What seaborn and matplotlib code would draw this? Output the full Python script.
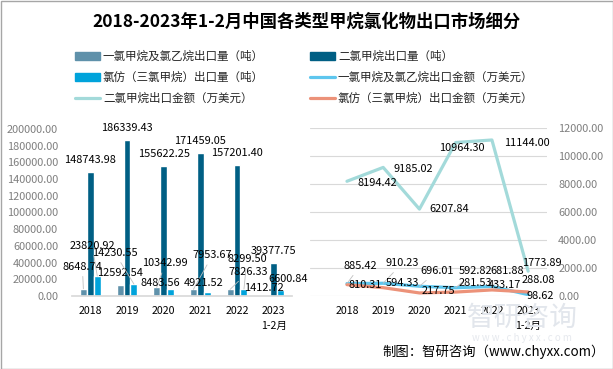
import pandas as pd
import matplotlib
matplotlib.use('Agg')
import matplotlib.pyplot as plt
import seaborn as sns
from matplotlib.patches import Rectangle

# ====================== DATA ======================
years = ['2018', '2019', '2020', '2021', '2022', '2023']
year_labels = ['2018', '2019', '2020', '2021', '2022', '2023\n1-2月']

mcm_vol = [8648.74, 12592.54, 10342.99, 7953.67, 7826.33, 1412.72]        # 一氯甲烷及氯乙烷出口量（吨）
dcm_vol = [148743.98, 186339.43, 155622.25, 171459.05, 157201.40, 39377.75]  # 二氯甲烷出口量（吨）
tcm_vol = [23820.92, 14230.55, 8483.56, 4921.52, 8299.50, 6600.84]        # 氯仿（三氯甲烷）出口量（吨）

mcm_amt = [885.42, 910.23, 696.01, 592.82, 681.88, 98.62]       # 一氯甲烷及氯乙烷出口金额（万美元）
dcm_amt = [8194.42, 9185.02, 6207.84, 10964.30, 11144.00, 1773.89]  # 二氯甲烷出口金额（万美元）
tcm_amt = [810.31, 594.33, 217.75, 281.53, 433.17, 288.08]      # 氯仿（三氯甲烷）出口金额（万美元）

bar_names = ['一氯甲烷及氯乙烷出口量（吨）', '二氯甲烷出口量（吨）', '氯仿（三氯甲烷）出口量（吨）']
line_names = ['一氯甲烷及氯乙烷出口金额（万美元）', '二氯甲烷出口金额（万美元）', '氯仿（三氯甲烷）出口金额（万美元）']

# ====================== STYLE ======================
bar_colors = ['#5f91aa', '#005f84', '#00a3db']
line_colors = ['#5ec6ee', '#a3dada', '#ec9279']

sns.set_theme(style='white')
plt.rcParams['font.family'] = ['Noto Sans CJK SC', 'DejaVu Sans']

# label offsets in pixels (dx, dy up) from the mark
off_mcm_vol = [(-1, 22), (0, 12.5), (8.6, 24), (19, 34), (18, 17.5), (-2.5, 7)]
off_tcm_vol = [(-5, 30), (-19, 31), (-10, 6), (-4, 9), (3, 30), (7.5, 11.5)]
off_mcm_amt = [(13, 17.6), (19, 20), (17.6, 15), (19.4, 16.7), (15, 15.5), (12, -1.4)]
off_dcm_amt = [(30, -2), (30, -1.5), (30, 0), (6, -5.5), (35, -3), (14, 8)]
off_tcm_amt = [(18, 0), (19, 4.7), (18.6, 2), (20, 9), (13, 5), (10, 12)]

W, H = 613, 369
fig = plt.figure(figsize=(W / 100, H / 100), dpi=100)
ax1 = fig.add_axes([72 / W, 1 - 296 / H, 220 / W, 167 / H])
ax2 = fig.add_axes([310 / W, 1 - 296 / H, 237 / W, 168 / H])

# ====================== BARS ======================
bars = pd.DataFrame({
    'year': years * 3,
    'value': mcm_vol + dcm_vol + tcm_vol,
    'series': [bar_names[0]] * 6 + [bar_names[1]] * 6 + [bar_names[2]] * 6,
})
sns.barplot(data=bars, x='year', y='value', hue='series', hue_order=bar_names,
            palette=bar_colors, width=0.57, gap=0, saturation=1, ax=ax1, legend=False)
ax1.set_ylim(0, 200000)
ax1.set_xlim(-0.5, 5.5)
ax1.set_xlabel('')
ax1.set_ylabel('')
ax1.set_yticks(range(0, 200001, 20000))
ax1.set_yticklabels([f'{v:.2f}' for v in range(0, 200001, 20000)], color='#7f7f7f', fontsize=7.9)
ax1.set_xticks(range(6))
ax1.set_xticklabels(year_labels, fontsize=7.6, color='black', linespacing=1.6)
ax1.tick_params(axis='both', length=0)
ax1.tick_params(axis='y', pad=10)
ax1.tick_params(axis='x', pad=7)
for s in ['top', 'right', 'left']:
    ax1.spines[s].set_visible(False)
ax1.spines['bottom'].set_color('#d9d9d9')
ax1.set_facecolor('none')

PX = 0.72  # px -> points
lab_kw = dict(fontsize=7.9, color='black', ha='center', va='center', textcoords='offset points',
              annotation_clip=False)
leader = dict(arrowstyle='-', color='#bfbfbf', lw=0.6, shrinkA=1, shrinkB=0)

bw = 0.19
for i in range(6):
    ax1.annotate(f'{dcm_vol[i]:.2f}', (i, dcm_vol[i]), xytext=(0, 12 * PX), **lab_kw)
    dx, dy = off_mcm_vol[i]
    ax1.annotate(f'{mcm_vol[i]:.2f}', (i - bw, mcm_vol[i]), xytext=(dx * PX, dy * PX),
                 arrowprops=leader if dy > 14 else None, **lab_kw)
    dx, dy = off_tcm_vol[i]
    ax1.annotate(f'{tcm_vol[i]:.2f}', (i + bw, tcm_vol[i]), xytext=(dx * PX, dy * PX),
                 arrowprops=leader if dy > 14 else None, **lab_kw)

# ====================== LINES ======================
lines = pd.DataFrame({
    'year': years * 3,
    'value': mcm_amt + dcm_amt + tcm_amt,
    'series': [line_names[0]] * 6 + [line_names[1]] * 6 + [line_names[2]] * 6,
})
lines['pos'] = lines['year'].map({y: k for k, y in enumerate(years)})
sns.lineplot(data=lines, x='pos', y='value', hue='series', hue_order=line_names,
             palette=line_colors, linewidth=2.3, sort=False, ax=ax2, legend=False)
ax2.set_ylim(0, 12000)
ax2.set_xlim(-1.02, 5.52)
ax2.set_xlabel('')
ax2.set_ylabel('')
ax2.yaxis.tick_right()
ax2.set_yticks(range(0, 12001, 2000))
ax2.set_yticklabels([f'{v:.2f}' for v in range(0, 12001, 2000)], color='#7f7f7f', fontsize=7.9)
ax2.set_xticks(range(6))
ax2.set_xticklabels(year_labels, fontsize=7.6, color='black', linespacing=1.6)
ax2.tick_params(axis='both', length=0)
ax2.tick_params(axis='y', pad=8)
ax2.tick_params(axis='x', pad=7)
ax2.grid(axis='y', color='#d9d9d9', lw=0.8)
ax2.set_axisbelow(True)
for s in ax2.spines.values():
    s.set_visible(False)
ax2.set_facecolor('none')

for i in range(6):
    dx, dy = off_dcm_amt[i]
    ax2.annotate(f'{dcm_amt[i]:.2f}', (i, dcm_amt[i]), xytext=(dx * PX, dy * PX), **lab_kw)
    dx, dy = off_mcm_amt[i]
    ax2.annotate(f'{mcm_amt[i]:.2f}', (i, mcm_amt[i]), xytext=(dx * PX, dy * PX),
                 arrowprops=leader if dy > 10 else None, **lab_kw)
    dx, dy = off_tcm_amt[i]
    ax2.annotate(f'{tcm_amt[i]:.2f}', (i, tcm_amt[i]), xytext=(dx * PX, dy * PX), **lab_kw)

# ====================== LEGEND / TITLE ======================
bh = [Rectangle((0, 0), 1, 1, color=c) for c in bar_colors]
lh = [plt.Line2D([0], [0], color=c, lw=2.3) for c in line_colors]
handles = [bh[0], bh[2], lh[1], bh[1], lh[0], lh[2]]
labels = [bar_names[0], bar_names[2], line_names[1], bar_names[1], line_names[0], line_names[2]]
fig.legend(handles, labels, ncol=2, loc='upper left', bbox_to_anchor=(75 / W, 1 - 50 / H),
           frameon=False, fontsize=8.3, handlelength=2.17, handleheight=0.6, handletextpad=0.25,
           labelspacing=0.7, columnspacing=4.0, borderpad=0, borderaxespad=0)

fig.text(307 / W, 1 - 22 / H, '2018-2023年1-2月中国各类型甲烷氯化物出口市场细分',
         ha='center', va='center', fontsize=12.5, fontweight='bold', color='black')

# watermark
fig.text(522 / W, 1 - 318 / H, '智研咨询', ha='center', va='center', fontsize=20,
         color='#e2e6ec', zorder=0)
fig.text(522 / W, 1 - 338 / H, 'w w w . c h y x x . c o m', ha='center', va='center',
         fontsize=7, color='#e6e9ee', zorder=0)

fig.text(605 / W, 1 - 352 / H, '制图：智研咨询（www.chyxx.com）', ha='right', va='center',
         fontsize=9.6, color='black')

fig.patches.append(Rectangle((0.5 / W, 0.5 / H), 1 - 1 / W, 1 - 1 / H, transform=fig.transFigure,
                             fill=False, edgecolor='#a6a6a6', lw=1))

fig.savefig('out.png', dpi=100)
